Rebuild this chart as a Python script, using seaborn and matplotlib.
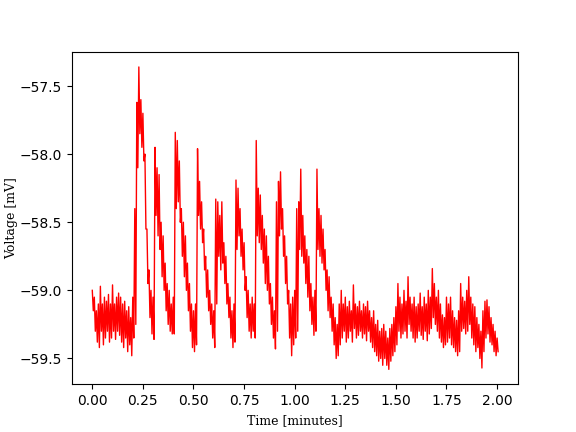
import numpy as np
import pandas as pd
import matplotlib
matplotlib.use("Agg")
import matplotlib.pyplot as plt
import seaborn as sns

# Sample times (minutes), step 0.01 from 0 to 2.00
time_min = [round(i * 0.01, 2) for i in range(201)]

# Upper envelope of the voltage trace (mV) read per sample
v_high = [
    -59.00, -59.05, -59.15, -59.10, -58.97, -59.10, -59.05, -59.08, -59.03, -59.10,
    -58.96, -59.10, -59.05, -59.02, -59.05, -59.10, -59.08, -59.15, -59.12, -59.20,
    -59.05, -58.40, -57.62, -57.36, -57.60, -57.70, -58.00, -58.55, -58.85, -59.00,
    -59.05, -57.95, -58.10, -58.15, -58.50, -58.60, -58.80, -58.95, -59.00, -59.10,
    -59.05, -57.84, -57.90, -58.05, -58.40, -58.50, -58.60, -58.80, -58.95, -59.10,
    -59.15, -59.10, -57.96, -58.20, -58.35, -58.55, -58.75, -58.85, -59.00, -59.10,
    -59.15, -58.33, -58.35, -58.45, -58.35, -58.65, -58.75, -58.95, -59.05, -59.15,
    -59.10, -58.19, -58.25, -58.40, -58.55, -58.65, -58.90, -59.00, -59.10, -59.05,
    -59.10, -57.90, -58.25, -58.30, -58.45, -58.55, -58.60, -58.75, -58.95, -59.05,
    -59.15, -58.35, -58.20, -58.13, -58.40, -58.60, -58.75, -59.00, -59.10, -59.05,
    -59.00, -58.40, -58.35, -58.11, -58.45, -58.60, -58.70, -58.75, -58.95, -59.05,
    -59.00, -58.11, -58.40, -58.45, -58.55, -58.70, -58.85, -58.90, -59.05, -59.10,
    -59.20, -59.25, -59.10, -59.00, -59.10, -59.05, -59.12, -59.08, -59.15, -58.96,
    -59.10, -59.12, -59.08, -59.15, -59.10, -59.12, -59.08, -59.15, -59.20, -59.15,
    -59.25, -59.22, -59.30, -59.28, -59.25, -59.30, -59.35, -59.28, -59.25, -59.20,
    -59.12, -58.95, -59.05, -59.10, -59.00, -59.08, -58.90, -59.05, -59.10, -59.05,
    -59.12, -59.10, -59.02, -59.12, -59.05, -59.10, -59.00, -59.05, -58.84, -58.95,
    -59.05, -59.00, -59.10, -59.18, -59.20, -59.05, -59.10, -59.05, -59.15, -59.20,
    -59.22, -59.15, -58.95, -59.05, -59.08, -59.00, -58.90, -59.05, -59.10, -59.12,
    -59.20, -59.25, -59.30, -59.15, -59.08, -59.07, -59.12, -59.20, -59.25, -59.30,
    -59.35,
]

# Lower envelope of the voltage trace (mV) read per sample
v_low = [
    -59.15, -59.30, -59.38, -59.42, -59.30, -59.40, -59.35, -59.30, -59.38, -59.35,
    -59.30, -59.36, -59.30, -59.33, -59.38, -59.42, -59.35, -59.45, -59.40, -59.48,
    -59.35, -59.25, -58.10, -57.85, -57.95, -58.05, -58.55, -58.95, -59.20, -59.32,
    -59.36, -58.45, -58.60, -58.70, -58.90, -59.00, -59.15, -59.25, -59.30, -59.32,
    -59.32, -58.40, -58.35, -58.50, -58.75, -58.90, -59.00, -59.15, -59.30, -59.42,
    -59.45, -59.40, -58.45, -58.55, -58.65, -58.85, -59.05, -59.15, -59.25, -59.35,
    -59.42, -59.10, -58.75, -58.85, -58.80, -58.95, -59.10, -59.20, -59.35, -59.42,
    -59.38, -58.70, -58.60, -58.75, -58.85, -59.00, -59.20, -59.30, -59.35, -59.30,
    -59.35, -58.60, -58.65, -58.70, -58.80, -58.95, -59.00, -59.10, -59.25, -59.35,
    -59.43, -59.30, -58.60, -58.55, -58.75, -58.95, -59.10, -59.35, -59.48, -59.40,
    -59.35, -59.30, -58.70, -58.75, -58.80, -58.95, -59.05, -59.15, -59.25, -59.33,
    -59.30, -58.70, -58.75, -58.80, -58.85, -59.00, -59.15, -59.20, -59.30, -59.40,
    -59.50, -59.48, -59.40, -59.35, -59.30, -59.38, -59.35, -59.30, -59.38, -59.28,
    -59.35, -59.33, -59.30, -59.35, -59.32, -59.37, -59.30, -59.38, -59.42, -59.45,
    -59.48, -59.52, -59.50, -59.55, -59.50, -59.55, -59.58, -59.52, -59.48, -59.45,
    -59.40, -59.30, -59.35, -59.32, -59.30, -59.35, -59.25, -59.30, -59.35, -59.38,
    -59.35, -59.30, -59.33, -59.36, -59.30, -59.37, -59.32, -59.28, -59.20, -59.25,
    -59.30, -59.35, -59.38, -59.42, -59.40, -59.38, -59.35, -59.40, -59.42, -59.45,
    -59.48, -59.45, -59.30, -59.28, -59.32, -59.30, -59.25, -59.35, -59.40, -59.45,
    -59.42, -59.50, -59.57, -59.45, -59.35, -59.32, -59.38, -59.40, -59.45, -59.48,
    -59.45,
]

# Build the trace: alternate between upper and lower readings
rows_t, rows_v = [], []
for t, hi, lo in zip(time_min, v_high, v_low):
    rows_t += [t, t + 0.005]
    rows_v += [hi, lo]
df = pd.DataFrame({"Time": rows_t, "Voltage": rows_v})

fig, ax = plt.subplots(figsize=(5.76, 4.32), dpi=100)
sns.lineplot(data=df, x="Time", y="Voltage", ax=ax, color="red",
             linewidth=1.0, estimator=None, sort=False)
ax.set_xticks([0.0, 0.25, 0.5, 0.75, 1.0, 1.25, 1.5, 1.75, 2.0])
ax.set_xticklabels(["0.00", "0.25", "0.50", "0.75", "1.00", "1.25", "1.50", "1.75", "2.00"])
ax.set_yticks([-57.5, -58.0, -58.5, -59.0, -59.5])
ax.set_xlabel("Time [minutes]", family="DejaVu Serif", fontsize=9)
ax.set_ylabel("Voltage [mV]", family="DejaVu Serif", fontsize=9, labelpad=1.5)
fig.savefig("out.png", dpi=100)
